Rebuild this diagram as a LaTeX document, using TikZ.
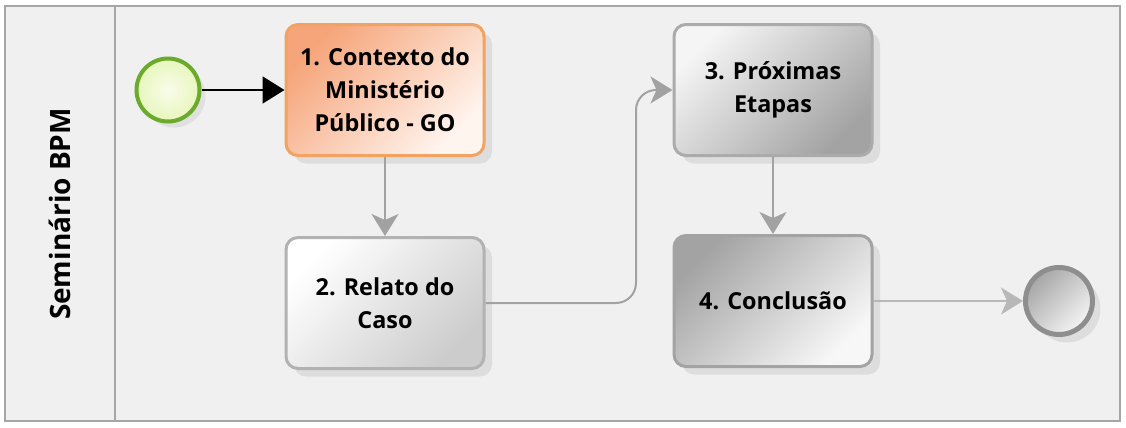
\documentclass[tikz,border=0pt]{standalone}
\usepackage{fontspec}
\setmainfont{Open Sans}
\usepackage{tikz}
\usetikzlibrary{arrows.meta, positioning, shadows}
\definecolor{poolfill}{HTML}{F0F0F0}
\definecolor{poolline}{HTML}{A6A6A6}
\definecolor{startgreen}{HTML}{6BAA2C}
\definecolor{startfill}{HTML}{E8F6BC}
\definecolor{ctxline}{HTML}{F2A261}
\definecolor{ctxtop}{HTML}{F6A57A}
\definecolor{ctxbottom}{HTML}{FFF5EF}
\definecolor{taskline}{HTML}{B2B2B2}
\definecolor{flowgray}{HTML}{A2A2A2}
\definecolor{endgray}{HTML}{8E8E8E}

\begin{document}
\begin{tikzpicture}[x=0.5pt, y=-0.5pt, font=\bfseries\fontsize{11.7}{16.5}\selectfont,
  task/.style={rectangle, rounded corners=6pt, line width=1.5pt, minimum width=99pt,
    minimum height=65.5pt, align=center, inner sep=2pt,
    drop shadow={opacity=0.16, shadow xshift=4pt, shadow yshift=-4pt}},
  flow/.style={flowgray, line width=1pt, -{Stealth[inset=3pt, length=11pt, width=13.5pt]}}]
  \useasboundingbox (0,0) rectangle (1126,428);
  % pool and lane
  \draw[poolline, fill=poolfill, line width=1pt] (5,6) rectangle (1120,421);
  \draw[poolline, line width=1pt] (115,6) -- (115,421);
  \node[rotate=90, font=\bfseries\fontsize{14}{16}\selectfont] (lane) at (60,214) {Seminário BPM};

  % events
  \node[circle, draw=startgreen, line width=2pt, minimum size=31.5pt, inner sep=0pt,
    inner color=startfill!30!white, outer color=startfill,
    drop shadow={opacity=0.14, shadow xshift=3pt, shadow yshift=-3pt}] (inicio) at (168,90) {};
  \node[circle, draw=endgray, line width=2.5pt, minimum size=33.5pt, inner sep=0pt,
    top color=black!35, bottom color=black!4, shading angle=45,
    drop shadow={opacity=0.16, shadow xshift=4pt, shadow yshift=-4pt}] (fim) at (1059,301) {};

  % tasks
  \node[task, draw=ctxline, top color=ctxtop, bottom color=ctxbottom, shading angle=45]
    (contexto) at (385,90) {1. Contexto do\\Ministério\\Público - GO};
  \node[task, draw=taskline, top color=white, bottom color=black!20, shading angle=45]
    (relato) at (385,303) {2. Relato do\\Caso};
  \node[task, draw=black!33, top color=black!4, bottom color=black!36, shading angle=45]
    (etapas) at (773,90) {3. Próximas\\Etapas};
  \node[task, draw=black!36, top color=black!36, bottom color=black!3, shading angle=45]
    (conclusao) at (773,301) {4. Conclusão};

  % sequence flows
  \draw[black, line width=1pt, -{Triangle[length=11pt, width=13.5pt]}] (inicio) -- (contexto);
  \draw[flow] (contexto) -- (relato);
  \coordinate (turn) at (636,303);
  \draw[flow, rounded corners=10pt] (relato.east) -- (turn) |- (etapas.west);
  \draw[flow] (etapas) -- (conclusao);
  \draw[flow, draw=black!28, -{Stealth[inset=3pt, length=11pt, width=13.5pt, fill=black!28]}]
    (conclusao) -- (fim);
\end{tikzpicture}
\end{document}
